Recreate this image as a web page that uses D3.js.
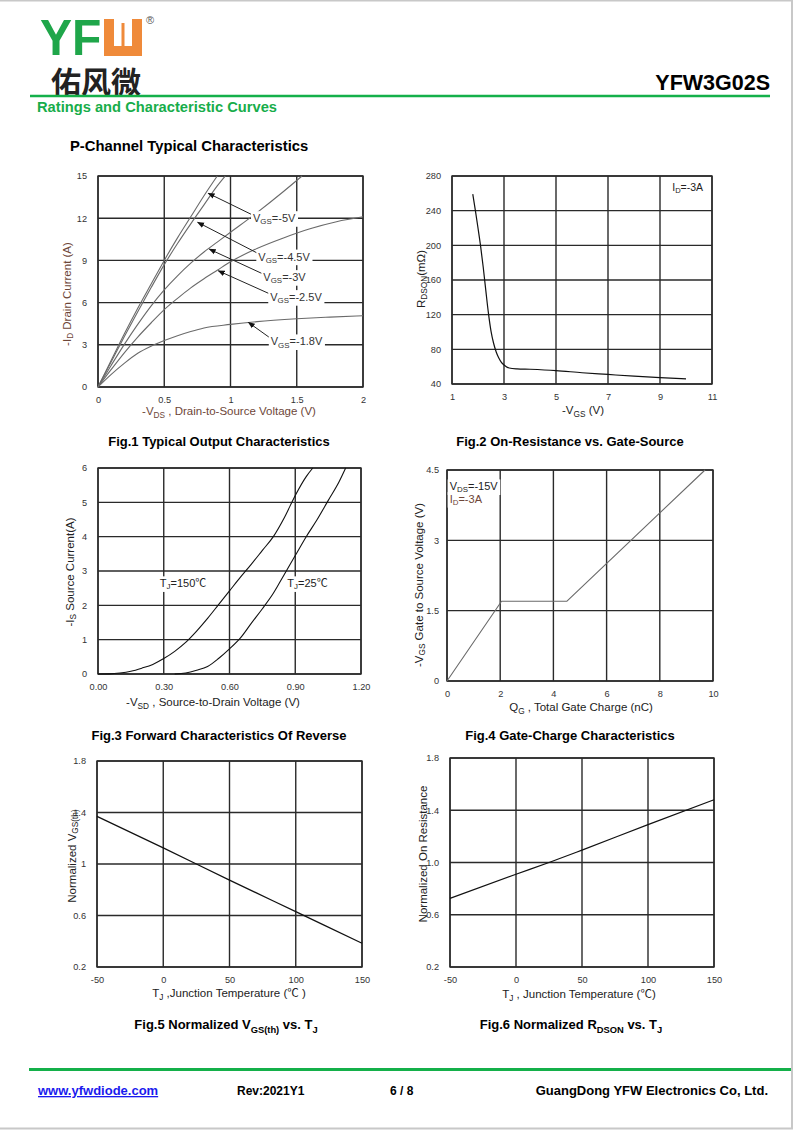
<!DOCTYPE html>
<html><head><meta charset="utf-8">
<script src="https://cdn.jsdelivr.net/npm/d3@7"></script>
<style>
body{margin:0;background:#fff}
svg{display:block}
text{font-family:"Liberation Sans",Arial,"Noto Sans CJK SC",sans-serif}
</style>
</head><body>
<svg id="c" width="800" height="1132"></svg>
<script>
// ---------------- DATA ----------------
// Fig.1 Typical output characteristics  [-VDS (V), -ID (A)]
const fig1Vgs5  = [[0,0],[0.1,1.9],[0.2,3.8],[0.3,5.6],[0.4,7.3],[0.5,9.0],[0.6,10.6],[0.7,12.1],[0.8,13.6],[0.9,15]];
const fig1Vgs45 = [[0,0],[0.1,1.8],[0.2,3.6],[0.3,5.35],[0.4,7.05],[0.5,8.7],[0.6,10.2],[0.7,11.6],[0.8,12.95],[0.9,14.3],[0.96,15]];
const fig1Vgs3  = [[0,0],[0.1,1.55],[0.2,3.05],[0.3,4.45],[0.4,5.75],[0.5,6.9],[0.6,7.9],[0.7,8.8],[0.8,9.6],[0.9,10.3],[1.0,11.0],[1.2,12.4],[1.4,13.9],[1.54,15]];
const fig1Vgs25 = [[0,0],[0.1,1.25],[0.2,2.45],[0.3,3.55],[0.4,4.55],[0.5,5.5],[0.6,6.3],[0.7,7.05],[0.8,7.7],[0.9,8.3],[1.0,8.9],[1.2,9.85],[1.4,10.6],[1.6,11.25],[1.8,11.75],[2.0,12.1]];
const fig1Vgs18 = [[0,0],[0.1,0.9],[0.2,1.7],[0.3,2.4],[0.4,2.9],[0.5,3.3],[0.6,3.65],[0.7,3.95],[0.8,4.2],[1.0,4.45],[1.2,4.65],[1.5,4.85],[1.75,4.97],[2.0,5.07]];
const fig1Labels = ["V{GS}=-5V","V{GS}=-4.5V","V{GS}=-3V","V{GS}=-2.5V","V{GS}=-1.8V"];
// label anchor [x,y] and arrow tip [x,y] in data units
const fig1LabelAt = [[1.17,12.0],[1.21,9.27],[1.248,7.81],[1.30,6.39],[1.304,3.24]];
const fig1ArrowTip = [[0.832,13.77],[0.752,11.71],[0.84,9.8],[0.908,8.26],[1.135,4.59]];
const fig1XTicks = [0,0.5,1,1.5,2];
const fig1YTicks = [0,3,6,9,12,15];

// Fig.2 On-resistance vs gate-source [-VGS (V), RDSON (mOhm)]
const fig2Rdson = [[1.8,259],[1.9,240],[2.0,220],[2.1,199],[2.2,175],[2.3,148],[2.4,122],[2.5,101],[2.6,87],[2.7,77],[2.8,70],[2.9,65],[3.0,62],[3.2,58.5],[3.5,57.5],[4,57],[5,55.5],[6,53],[7,51],[8,49],[9,47.3],[10,46]];
const fig2XTicks = [1,3,5,7,9,11];
const fig2YTicks = [40,80,120,160,200,240,280];

// Fig.3 Forward characteristics of reverse diode [-VSD (V), -IS (A)]
const fig3T150 = [[0,0],[0.05,0.005],[0.1,0.03],[0.15,0.08],[0.2,0.17],[0.25,0.28],[0.3,0.45],[0.35,0.66],[0.4,0.92],[0.45,1.25],[0.5,1.62],[0.55,2.02],[0.6,2.42],[0.65,2.82],[0.7,3.2],[0.75,3.6],[0.8,4.0],[0.85,4.55],[0.9,5.2],[0.95,5.75],[0.98,6.0]];
const fig3T25 = [[0.35,0],[0.4,0.03],[0.45,0.11],[0.5,0.22],[0.55,0.45],[0.6,0.73],[0.65,1.05],[0.7,1.48],[0.75,1.9],[0.8,2.35],[0.85,2.9],[0.9,3.45],[0.95,4.0],[1.0,4.5],[1.05,5.05],[1.1,5.6],[1.13,6.0]];
const fig3Labels = ["T{J}=150℃","T{J}=25℃"];
const fig3LabelAt = [[0.282,2.64],[0.864,2.64]];
const fig3XTicks = [0,0.3,0.6,0.9,1.2];
const fig3YTicks = [0,1,2,3,4,5,6];

// Fig.4 Gate charge [QG (nC), -VGS (V)]
const fig4Vgs = [[0,0],[2.05,1.7],[4.5,1.7],[9.7,4.5]];
const fig4XTicks = [0,2,4,6,8,10];
const fig4YTicks = [0,1.5,3,4.5];

// Fig.5 Normalized VGS(th) vs TJ
const fig5Vth = [[-50,1.37],[0,1.125],[50,0.875],[100,0.63],[150,0.385]];
// Fig.6 Normalized RDSON vs TJ
const fig6Rds = [[-50,0.725],[0,0.91],[25,1.0],[50,1.095],[100,1.29],[150,1.48]];
const tempTicks = [-50,0,50,100,150];
const normTicks = [0.2,0.6,1.0,1.4,1.8];

// ---------------- DRAWING ----------------
const svg = d3.select("#c");
const BROWN = "#6e4638";
const plain = d => String(d);

function rich(sel, str, size){
  const parts = str.split(/(\{[^}]*\})/).filter(s => s.length);
  let sub = false;
  parts.forEach(p => {
    if (p[0] === "{") {
      sel.append("tspan").attr("font-size", size*0.72).attr("dy", size*0.28).text(p.slice(1,-1));
      sub = true;
    } else {
      const t = sel.append("tspan").attr("font-size", size).text(p);
      if (sub) { t.attr("dy", -size*0.28); sub = false; }
    }
  });
  return sel;
}

function text(x, y, str, o = {}) {
  const size = o.size || 12;
  const t = svg.append("text").attr("x", x).attr("y", y)
    .attr("text-anchor", o.anchor || "start")
    .attr("dominant-baseline", o.baseline || "alphabetic")
    .attr("font-weight", o.weight || "normal")
    .attr("fill", o.fill || "#000");
  if (o.rotate) t.attr("transform", `rotate(${o.rotate},${x},${y})`);
  rich(t, str, size);
  return t;
}

function panel(cfg) {
  const g = svg.append("g");
  const x = d3.scaleLinear().domain(cfg.xDomain).range([cfg.x, cfg.x + cfg.w]);
  const y = d3.scaleLinear().domain(cfg.yDomain).range([cfg.y + cfg.h, cfg.y]);
  const gridCol = "#2a2a2a";
  g.selectAll(".vg").data(cfg.xTicks).join("line")
    .attr("x1", d => x(d)).attr("x2", d => x(d)).attr("y1", cfg.y).attr("y2", cfg.y + cfg.h)
    .attr("stroke", gridCol).attr("stroke-width", 1.4);
  g.selectAll(".hg").data(cfg.yTicks).join("line")
    .attr("y1", d => y(d)).attr("y2", d => y(d)).attr("x1", cfg.x).attr("x2", cfg.x + cfg.w)
    .attr("stroke", gridCol).attr("stroke-width", 1.4);
  g.append("rect").attr("x", cfg.x).attr("y", cfg.y).attr("width", cfg.w).attr("height", cfg.h)
    .attr("fill", "none").attr("stroke", gridCol).attr("stroke-width", 1.4);
  const ax = g.append("g").attr("transform", `translate(0,${cfg.y + cfg.h + (cfg.xTickGap||6)})`)
    .call(d3.axisBottom(x).tickValues(cfg.xTicks).tickSize(0).tickFormat(cfg.xFmt));
  const ay = g.append("g").attr("transform", `translate(${cfg.x - (cfg.yTickGap||8)},0)`)
    .call(d3.axisLeft(y).tickValues(cfg.yTicks).tickSize(0).tickFormat(cfg.yFmt));
  [ax, ay].forEach(a => {
    a.select(".domain").remove();
    a.selectAll("text").attr("font-size", 9.2).attr("fill", "#333")
      .attr("font-family", "'Liberation Sans', Arial, sans-serif");
  });
  return {g, x, y};
}

function curve(p, data, col, wdt, lin) {
  const line = d3.line().x(d => p.x(d[0])).y(d => p.y(d[1]))
    .curve(lin ? d3.curveLinear : d3.curveMonotoneX);
  p.g.append("path").datum(data).attr("d", line).attr("fill", "none")
    .attr("stroke", col).attr("stroke-width", wdt).attr("stroke-linejoin", "round");
}

function boxedLabel(p, pos, str, size, fill) {
  const t = p.g.append("text").attr("x", p.x(pos[0])).attr("y", p.y(pos[1]))
    .attr("dominant-baseline", "central").attr("fill", fill || "#222");
  rich(t, str, size);
  const bb = t.node().getBBox();
  p.g.insert("rect", () => t.node())
    .attr("x", bb.x - 2).attr("y", bb.y - 1).attr("width", bb.width + 4).attr("height", bb.height + 2)
    .attr("fill", "#fff");
  return t;
}

// ---- page frame / header ----
svg.append("line").attr("x1",0).attr("x2",793).attr("y1",0.5).attr("y2",0.5).attr("stroke","#c8c8c8").attr("stroke-width",2);
svg.append("line").attr("x1",792).attr("x2",792).attr("y1",0).attr("y2",1129).attr("stroke","#c8c8c8").attr("stroke-width",2);
svg.append("line").attr("x1",0).attr("x2",793).attr("y1",1128.5).attr("y2",1128.5).attr("stroke","#c8c8c8").attr("stroke-width",2);

// logo
svg.append("text").attr("x", 40).attr("y", 55).attr("font-size", 48).attr("font-weight", "bold")
  .attr("fill", "#1fa64a").attr("font-family","'Liberation Sans',Arial,sans-serif")
  .attr("transform","translate(40,55) scale(1.0,1.06) translate(-40,-55)").text("YF");
const lg = svg.append("g").attr("fill", "#ef8a3a");
lg.append("path").attr("d", "M104,19 h10 v27 h18 v-27 h10 v37 h-38 z");
lg.append("rect").attr("x", 121.5).attr("y", 23).attr("width", 3).attr("height", 23);
svg.append("text").attr("x", 146).attr("y", 24).attr("font-size", 11).attr("fill", "#555").text("®");
svg.append("text").attr("x", 51).attr("y", 93).attr("font-size", 30).attr("font-weight", "bold")
  .attr("font-family", "'Noto Sans CJK SC',sans-serif").attr("fill", "#222").text("佑风微");

text(770, 90, "YFW3G02S", {size: 21.5, weight: "bold", anchor: "end"});
svg.append("line").attr("x1", 30).attr("x2", 770).attr("y1", 96).attr("y2", 96).attr("stroke", "#14b04a").attr("stroke-width", 2.5);
text(37, 112, "Ratings and Characteristic Curves", {size: 14.7, weight: "bold", fill: "#17ad4a"});
text(70, 151, "P-Channel Typical Characteristics", {size: 14.8, weight: "bold"});

// ---- Fig.1 ----
const p1 = panel({x:98, y:176, w:265, h:211, xDomain:[0,2], yDomain:[0,15], xTicks:fig1XTicks, yTicks:fig1YTicks,
  xFmt: plain, yFmt: plain});
[fig1Vgs5, fig1Vgs45, fig1Vgs3, fig1Vgs25, fig1Vgs18].forEach(s => curve(p1, s, "#6a6a6a", 1.1));
svg.append("defs").append("marker").attr("id","ah").attr("viewBox","0 0 10 10").attr("refX",9).attr("refY",5)
  .attr("markerWidth",7).attr("markerHeight",7).attr("orient","auto")
  .append("path").attr("d","M0,1 L10,5 L0,9 z").attr("fill","#111");
fig1Labels.forEach((s, i) => {
  const a = fig1LabelAt[i], tip = fig1ArrowTip[i];
  p1.g.append("line").attr("x1", p1.x(a[0])).attr("y1", p1.y(a[1]) - 3)
    .attr("x2", p1.x(tip[0])).attr("y2", p1.y(tip[1]))
    .attr("stroke", "#222").attr("stroke-width", 1).attr("marker-end", "url(#ah)");
  boxedLabel(p1, a, s, 11, "#333");
});
text(67, 294, "-I{D} Drain Current (A)", {size: 11.5, anchor: "middle", rotate: -90, fill: BROWN, baseline:"central"});
text(229, 415, "-V{DS} , Drain-to-Source Voltage (V)", {size: 11.5, anchor: "middle", fill: BROWN});
text(219, 446, "Fig.1 Typical Output Characteristics", {size: 13, weight: "bold", anchor: "middle"});

// ---- Fig.2 ----
const p2 = panel({x:452, y:176, w:260, h:208, xDomain:[1,11], yDomain:[40,280], xTicks:fig2XTicks, yTicks:fig2YTicks,
  xFmt: plain, yFmt: plain});
curve(p2, fig2Rdson, "#111", 1.2);
boxedLabel(p2, [9.47, 267], "I{D}=-3A", 10.5, "#222");
text(421, 279, "R{DSON}(mΩ)", {size: 11.5, anchor: "middle", rotate: -90, fill: "#222", baseline:"central"});
text(583, 414, "-V{GS} (V)", {size: 11.5, anchor: "middle", fill: "#222"});
text(570, 446, "Fig.2 On-Resistance vs. Gate-Source", {size: 13, weight: "bold", anchor: "middle"});

// ---- Fig.3 ----
const p3 = panel({x:98, y:468, w:263, h:206, xDomain:[0,1.2], yDomain:[0,6], xTicks:fig3XTicks, yTicks:fig3YTicks,
  xFmt: d => d.toFixed(2), yFmt: plain});
curve(p3, fig3T150, "#111", 1.1);
curve(p3, fig3T25, "#111", 1.1);
fig3Labels.forEach((s, i) => boxedLabel(p3, fig3LabelAt[i], s, 11, "#222"));
text(70, 572, "-I{S} Source Current(A)", {size: 11.5, anchor: "middle", rotate: -90, fill: "#222", baseline:"central"});
text(213, 706, "-V{SD} , Source-to-Drain Voltage (V)", {size: 11.5, anchor: "middle", fill: "#222"});
text(219, 740, "Fig.3 Forward Characteristics Of Reverse", {size: 13, weight: "bold", anchor: "middle"});

// ---- Fig.4 ----
const p4 = panel({x:447, y:470, w:266, h:211, xDomain:[0,10], yDomain:[0,4.5], xTicks:fig4XTicks, yTicks:fig4YTicks,
  xFmt: plain, yFmt: plain, yTickGap: 5});
curve(p4, fig4Vgs, "#6a6a6a", 1.1, true);
boxedLabel(p4, [0.1, 4.15], "V{DS}=-15V", 11, "#222");
boxedLabel(p4, [0.1, 3.88], "I{D}=-3A", 11, BROWN);
text(419, 585, "-V{GS}    Gate to Source Voltage (V)", {size: 11.5, anchor: "middle", rotate: -90, fill: "#222", baseline:"central"});
text(581, 711, "Q{G} , Total Gate Charge (nC)", {size: 11.5, anchor: "middle", fill: "#222"});
text(570, 740, "Fig.4 Gate-Charge Characteristics", {size: 13, weight: "bold", anchor: "middle"});

// ---- Fig.5 ----
const p5 = panel({x:97, y:761, w:265, h:206, xDomain:[-50,150], yDomain:[0.2,1.8], xTicks:tempTicks, yTicks:normTicks,
  xFmt: plain, yFmt: d => d === 1 ? "1" : d.toFixed(1)});
curve(p5, fig5Vth, "#111", 1.2);
text(72, 856, "Normalized V{GS(th)}", {size: 11.5, anchor: "middle", rotate: -90, fill: "#222", baseline:"central"});
text(229, 997, "T{J} ,Junction Temperature (℃ )", {size: 11.5, anchor: "middle", fill: "#222"});
text(226, 1029, "Fig.5 Normalized V{GS(th)} vs. T{J}", {size: 13, weight: "bold", anchor: "middle"});

// ---- Fig.6 ----
const p6 = panel({x:450, y:758, w:264, h:209, xDomain:[-50,150], yDomain:[0.2,1.8], xTicks:tempTicks, yTicks:normTicks,
  xFmt: plain, yFmt: d => d.toFixed(1)});
curve(p6, fig6Rds, "#111", 1.2);
text(423, 854, "Normalized On Resistance", {size: 11.5, anchor: "middle", rotate: -90, fill: "#222", baseline:"central"});
text(579, 998, "T{J} , Junction Temperature (℃)", {size: 11.5, anchor: "middle", fill: "#222"});
text(571, 1029, "Fig.6 Normalized R{DSON} vs. T{J}", {size: 13, weight: "bold", anchor: "middle"});

// ---- footer ----
svg.append("line").attr("x1", 29).attr("x2", 791).attr("y1", 1069.5).attr("y2", 1069.5).attr("stroke", "#14b04a").attr("stroke-width", 3);
text(38, 1095, "www.yfwdiode.com", {size: 13, weight: "bold", fill: "#1a1aee"}).attr("text-decoration", "underline");
text(237, 1095, "Rev:2021Y1", {size: 12, weight: "bold"});
text(390, 1095, "6 / 8", {size: 12, weight: "bold"});
text(768, 1095, "GuangDong YFW Electronics Co, Ltd.", {size: 13, weight: "bold", anchor: "end"});
</script>
</body></html>
